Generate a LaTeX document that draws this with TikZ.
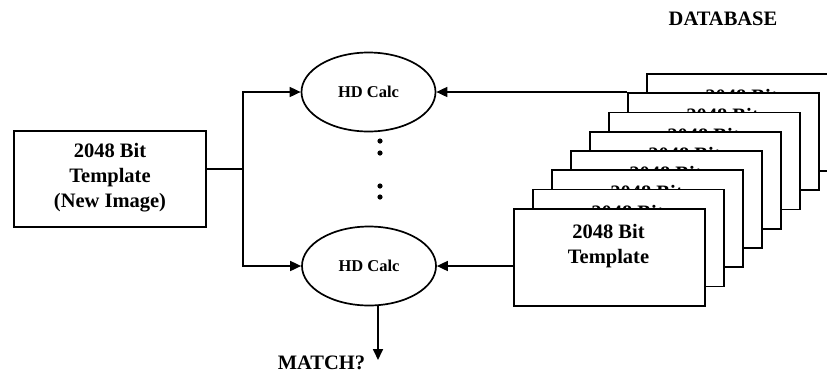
\documentclass[tikz,border=0pt]{standalone}
\usepackage{fontspec}
\setmainfont{Liberation Serif}
\usetikzlibrary{arrows.meta,shapes.geometric,calc}
\begin{document}
\begin{tikzpicture}[x=1pt,y=-1pt,
  line width=1.7pt,
  arr/.style={-{Triangle[length=11pt,width=10pt]}},
  bigtxt/.style={font=\fontsize{20.5}{25}\selectfont\bfseries, align=center, inner sep=0pt},
  hdtxt/.style={font=\fontsize{16.5}{20}\selectfont\bfseries},
  tbox/.style={draw, fill=white, minimum width=191pt, minimum height=97pt, inner sep=0pt, anchor=north west},
  ell/.style={draw, ellipse, minimum width=134pt, minimum height=79pt, inner sep=0pt}
]
\useasboundingbox (0,0) rectangle (827,373);
\clip (0,0) rectangle (827,373);

% left template box
\node[draw, minimum width=192pt, minimum height=96pt, inner sep=0pt] (L) at (110,179) {};
\node[bigtxt] (Ltxt) at (110,178) {2048 Bit\\Template\\(New Image)};

% ellipses
\node[ell] (e1) at (368.5,92) {};
\node[hdtxt] (e1t) at (368.5,92) {HD Calc};
\node[ell] (e2) at (369,266) {};
\node[hdtxt] (e2t) at (369,266) {HD Calc};

% dots
\foreach \i/\yy in {1/141,2/153,3/186,4/197}
  \fill (380,\yy) circle (2.6pt) coordinate (d\i);

% database stack (back to front); back cards only show the top of their first line
\foreach \k in {7,6,...,1}{
  \node[tbox] (b\k) at ({513+19*\k},{208-19.3*\k}) {};
  \node[bigtxt, anchor=north] (t\k) at ({513+19*\k+95.5},{208-19.3*\k+15.5}) {2048 Bit};
}
\node[tbox] (b0) at (513,208) {};
\node[bigtxt, anchor=north] (t0) at (608.5,223.5) {2048 Bit\\Template};

% DATABASE label
\node[font=\fontsize{20.5}{25}\selectfont\bfseries, anchor=base, inner sep=0pt] (db) at (723,25) {DATABASE};

% connectors from new image
\coordinate (j) at (243,169);
\draw (j -| L.east) -- (j);
\draw[arr] (j) |- (e1.west);
\draw[arr] (j) |- (e2.west);

% connectors from database
\draw[arr] (e1.east -| b6.west) -- (e1.east);
\draw[arr] (e2.east -| b0.west) -- (e2.east);

% match output
\coordinate (m) at (378,360);
\draw[arr] (e2.south -| m) -- (m);
\node[font=\fontsize{20.5}{25}\selectfont\bfseries, anchor=base east, inner sep=0pt] (match) at (366,369) {MATCH?};
\end{tikzpicture}
\end{document}
